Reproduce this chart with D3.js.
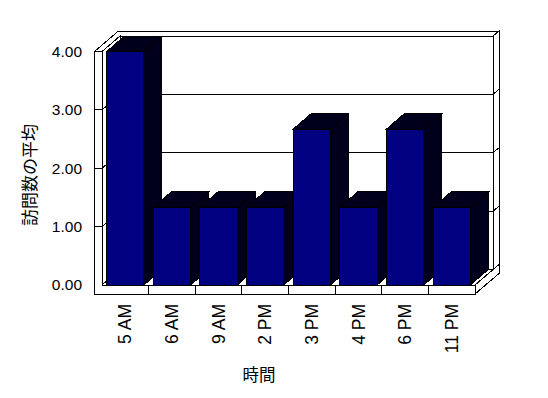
<!DOCTYPE html>
<html>
<head>
<meta charset="utf-8">
<script src="https://cdn.jsdelivr.net/npm/d3@7"></script>
<style>
  html, body { margin: 0; padding: 0; background: #fff; }
  svg { display: block; }
</style>
</head>
<body>
<div id="chart"></div>
<script>
// ---- data ----
const categories = ["5 AM", "6 AM", "9 AM", "2 PM", "3 PM", "4 PM", "6 PM", "11 PM"];
const values = [4.00, 1.33, 1.33, 1.33, 2.67, 1.33, 2.67, 1.33];
const yTicks = [0, 1, 2, 3, 4];
const yTitle = "訪問数の平均";
const xTitle = "時間";

// ---- layout ----
const W = 548, H = 398;
const plotLeft = 102, plotRight = 475;     // front face of plot (inner)
const wallOuterLeft = 94.5;                 // outer edge of left wall front
const floorThick = 9;                       // floor slab thickness (px)
const DX = 18, DY = -15.5;                  // depth offset of plot
const wX = 6, wY = -5;                      // extra depth of back wall thickness
const frontColor = "#000080";
const shadeColor = "#00001c";

const svg = d3.select("#chart").append("svg")
  .attr("width", W).attr("height", H)
  .attr("shape-rendering", "crispEdges");

const x = d3.scaleBand().domain(categories).range([plotLeft, plotRight])
  .paddingInner(0.2).paddingOuter(0.1);
const y = d3.scaleLinear().domain([0, 4]).range([285, 51.5]);

const y0 = y(0), yTop = y(4);
const step = x.step();
const line = d3.line();
const poly = pts => "M" + pts.map(p => p.join(",")).join("L") + "Z";

const g = svg.append("g");
function drawPoly(pts, fill) {
  g.append("path").attr("d", poly(pts)).attr("fill", fill).attr("stroke", "#000").attr("stroke-width", 1);
}
function drawLine(a, b) {
  g.append("path").attr("d", line([a, b])).attr("fill", "none").attr("stroke", "#000").attr("stroke-width", 1);
}

// back wall right side face
drawPoly([[plotRight + DX, yTop + DY], [plotRight + DX + wX, yTop + DY + wY],
          [plotRight + DX + wX, y0 + floorThick + DY + wY], [plotRight + DX, y0 + floorThick + DY]], "#fff");
// back wall front face
drawPoly([[plotLeft + DX, yTop + DY], [plotRight + DX, yTop + DY], [plotRight + DX, y0 + DY], [plotLeft + DX, y0 + DY]], "#fff");
// top of left wall + back wall (union)
drawPoly([[wallOuterLeft, yTop], [wallOuterLeft + DX + wX, yTop + DY + wY], [plotRight + DX + wX, yTop + DY + wY],
          [plotRight + DX, yTop + DY], [plotLeft + DX, yTop + DY], [plotLeft, yTop]], "#fff");
// left wall inner face
drawPoly([[plotLeft, y0], [plotLeft, yTop], [plotLeft + DX, yTop + DY], [plotLeft + DX, y0 + DY]], "#fff");
// floor top
drawPoly([[plotLeft, y0], [plotRight, y0], [plotRight + DX, y0 + DY], [plotLeft + DX, y0 + DY]], "#fff");
// floor right side face
drawPoly([[plotRight, y0], [plotRight, y0 + floorThick], [plotRight + DX + wX, y0 + floorThick + DY + wY],
          [plotRight + DX + wX, y0 + DY + wY]], "#fff");

// gridlines: left wall inner face, back wall, back wall right strip
yTicks.filter(t => t > 0 && t < 4).forEach(t => {
  const yy = y(t);
  drawLine([plotLeft, yy], [plotLeft + DX, yy + DY]);
  drawLine([plotLeft + DX, yy + DY], [plotRight + DX, yy + DY]);
  drawLine([plotRight + DX, yy + DY], [plotRight + DX + wX, yy + DY + wY]);
});

// front face of left wall + floor (union)
drawPoly([[wallOuterLeft, yTop], [plotLeft, yTop], [plotLeft, y0], [plotRight, y0],
          [plotRight, y0 + floorThick], [wallOuterLeft, y0 + floorThick]], "#fff");
yTicks.filter(t => t > 0 && t < 4).forEach(t => {
  drawLine([wallOuterLeft, y(t)], [plotLeft, y(t)]);
});
// category tick marks on floor front
categories.slice(1).forEach(c => {
  const bx = x(c) - x.paddingInner() * step / 2;
  drawLine([bx, y0], [bx, y0 + floorThick]);
});

// bars
categories.forEach((c, i) => {
  const x0 = x(c), x1 = x0 + x.bandwidth(), yt = y(values[i]);
  drawPoly([[x1, y0], [x1, yt], [x1 + DX, yt + DY], [x1 + DX, y0 + DY]], shadeColor);
  drawPoly([[x0, yt], [x1, yt], [x1 + DX, yt + DY], [x0 + DX, yt + DY]], shadeColor);
  drawPoly([[x0, y0], [x1, y0], [x1, yt], [x0, yt]], frontColor);
});

// ---- axes labels ----
const yAxis = d3.axisLeft(y).tickValues(yTicks).tickFormat(d3.format(".2f"))
  .tickSize(0).tickPadding(12.5);
const ya = svg.append("g").attr("transform", `translate(${wallOuterLeft},0)`).call(yAxis);
ya.select(".domain").remove();
ya.selectAll("text").attr("font-family", "'Liberation Sans', Arial, sans-serif")
  .attr("font-size", 15.5).attr("fill", "#000");

const xAxis = d3.axisBottom(x).tickSize(0).tickPadding(0);
const xa = svg.append("g").attr("transform", `translate(0,${y0 + floorThick})`).call(xAxis);
xa.select(".domain").remove();
xa.selectAll("text")
  .attr("font-family", "'Liberation Sans', Arial, sans-serif").attr("font-size", 17.5).attr("fill", "#000")
  .attr("transform", "translate(0,10) rotate(-90)")
  .attr("text-anchor", "end").attr("dy", "0.35em").attr("y", 0).attr("x", 0);

svg.append("text")
  .attr("transform", "translate(30,175) rotate(-90)")
  .attr("text-anchor", "middle").attr("dy", "0.35em")
  .attr("font-family", "'Noto Sans CJK JP', sans-serif").attr("font-size", 17)
  .text(yTitle);

svg.append("text")
  .attr("x", 259).attr("y", 375).attr("dy", "0.35em")
  .attr("text-anchor", "middle")
  .attr("font-family", "'Noto Sans CJK JP', sans-serif").attr("font-size", 16.5)
  .text(xTitle);
</script>
</body>
</html>
